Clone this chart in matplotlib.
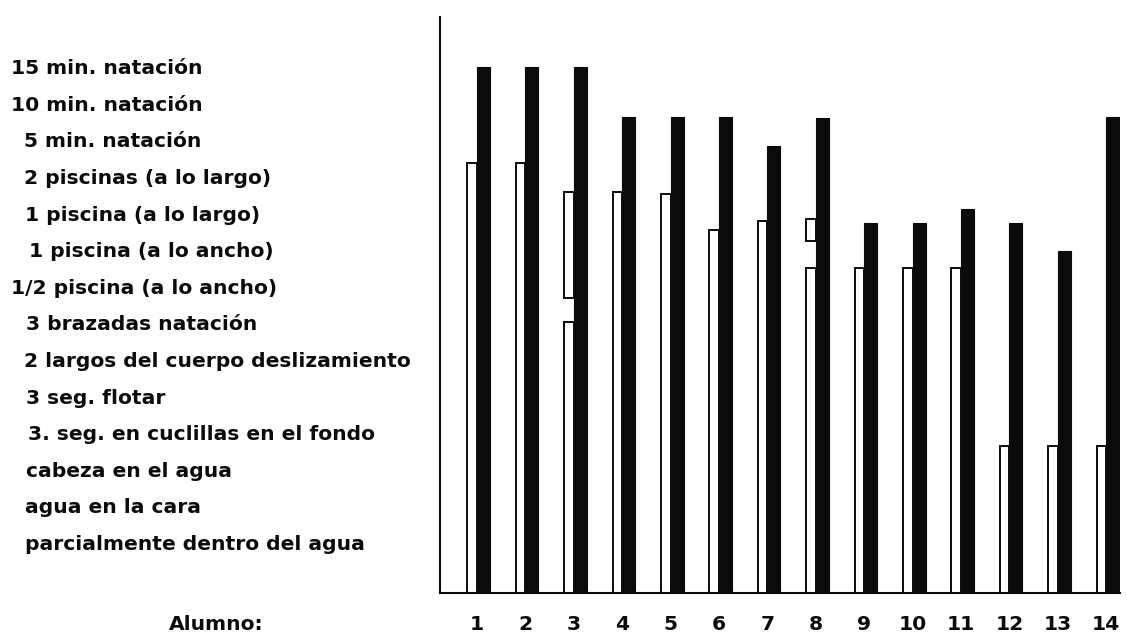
import matplotlib
matplotlib.use('Agg')
import matplotlib.pyplot as plt
import matplotlib.transforms as mtransforms

# ---- data ----
students = list(range(1, 15))
student_labels = [str(s) for s in students]

# skill levels, bottom (1) to top (14)
level_values = list(range(1, 15))
level_labels = [
    "parcialmente dentro del agua",
    "agua en la cara",
    "cabeza en el agua",
    "3. seg. en cuclillas en el fondo",
    "3 seg. flotar",
    "2 largos del cuerpo deslizamiento",
    "3 brazadas natación",
    "1/2 piscina (a lo ancho)",
    "1 piscina (a lo ancho)",
    "1 piscina (a lo largo)",
    "2 piscinas (a lo largo)",
    "5 min. natación",
    "10 min. natación",
    "15 min. natación",
]

# level reached (in level units)
black_top = [14.0, 14.0, 14.0, 12.63, 12.63, 12.63, 11.84, 12.61,
             9.74, 9.74, 10.12, 9.74, 8.97, 12.63]
white_top = [11.38, 11.38, 7.03, 10.58, 10.53, 9.55, 9.79, 8.51,
             8.51, 8.51, 8.51, 3.64, 3.64, 3.64]
# detached white segments
float_students = [3, 8]
float_bottom = [7.69, 9.25]
float_top = [10.58, 9.85]

# ---- layout ----
W, H = 1127, 632
fig = plt.figure(figsize=(W / 100, H / 100), dpi=100)
fig.patch.set_facecolor('white')
ax = fig.add_axes([440 / W, (H - 593) / H, (1120 - 440) / W, (593 - 17) / H])
Y0, Y1 = -0.372, 15.366
ax.set_xlim(0.2355, 14.285)
ax.set_ylim(Y0, Y1)

ink = '#0b0b0b'
font = ['DejaVu Sans']
fs = 14.6

white_w = 0.2
black_w = 0.27
ax.bar(students, [v - Y0 for v in white_top], bottom=Y0, width=-white_w, align='edge',
       facecolor='white', edgecolor=ink, linewidth=1.4, zorder=2)
ax.bar(float_students, [t - b for t, b in zip(float_top, float_bottom)], bottom=float_bottom,
       width=-white_w, align='edge', facecolor='white', edgecolor=ink, linewidth=1.4, zorder=2)
ax.bar(students, [v - Y0 for v in black_top], bottom=Y0, width=black_w, align='edge',
       facecolor=ink, edgecolor=ink, linewidth=0.8, zorder=3)

for s in ['top', 'right']:
    ax.spines[s].set_visible(False)
for s in ['left', 'bottom']:
    ax.spines[s].set_linewidth(1.5)
    ax.spines[s].set_color(ink)
    ax.spines[s].set_zorder(4)

ax.set_yticks([])
ax.set_xticks(students)
ax.set_xticklabels(student_labels, fontsize=fs, fontweight='bold', family=font, color=ink)
ax.tick_params(axis='x', length=0, pad=16)

# category labels on the left
label_x_px = [25, 25, 26, 28, 26, 24, 26, 11, 29, 25, 24, 24, 11, 11]
trans = mtransforms.blended_transform_factory(fig.transFigure, ax.transData)
trans = mtransforms.offset_copy(trans, fig=fig, y=-7.3, units='dots')
for lv, lab, xp in zip(level_values, level_labels, label_x_px):
    ax.text(xp / W, lv, lab, transform=trans, ha='left', va='baseline',
            fontsize=fs, fontweight='bold', family=font, color=ink, clip_on=False)

fig.text(216 / W, (H - 630) / H, "Alumno:", ha='center', va='baseline',
         fontsize=fs, fontweight='bold', family=font, color=ink)

fig.savefig('out.png', dpi=100, facecolor='white')
